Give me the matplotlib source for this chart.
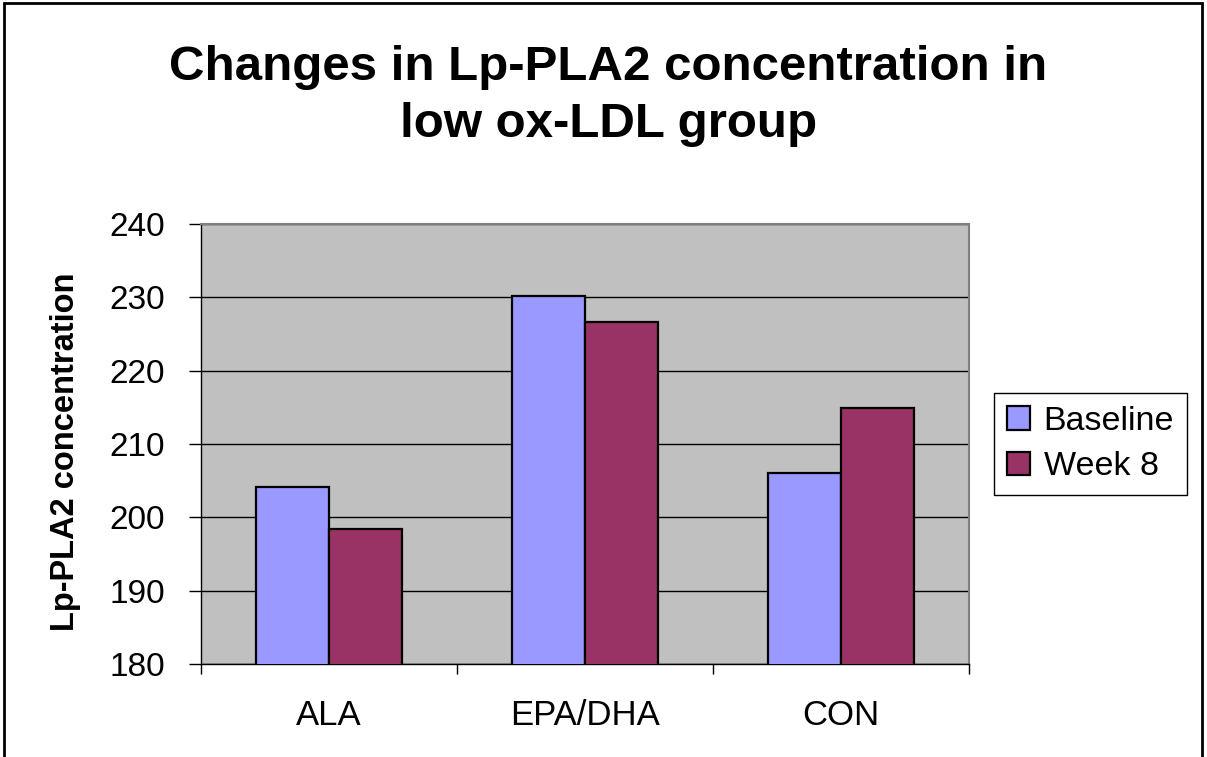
import numpy as np
import matplotlib.pyplot as plt
from matplotlib.patches import Rectangle

plt.rcParams['font.family'] = ['Liberation Sans', 'DejaVu Sans']

groups = ['ALA', 'EPA/DHA', 'CON']
baseline = [204.1, 230.2, 206.0]
week8 = [198.4, 226.7, 214.9]
yticks = [180, 190, 200, 210, 220, 230, 240]

fig = plt.figure(figsize=(12.07, 7.57), dpi=100)
ax = fig.add_axes([0.1665, 0.1229, 0.6363, 0.5812])
ax.set_facecolor('#C0C0C0')

x = np.arange(len(groups))
w = 1 / 3.5
ax.bar(x - w / 2, baseline, w, color='#9999FF', edgecolor='black', linewidth=1.6,
       label='Baseline', zorder=3)
ax.bar(x + w / 2, week8, w, color='#993366', edgecolor='black', linewidth=1.6,
       label='Week 8', zorder=3)

ax.set_ylim(180, 240)
ax.set_xlim(-0.5, 2.5)
ax.set_yticks(yticks)
ax.set_yticklabels([str(t) for t in yticks], fontsize=24)
ax.yaxis.grid(True, color='black', linewidth=1.0, zorder=1)
ax.set_axisbelow(True)

ax.set_xticks(x)
ax.set_xticklabels(groups, fontsize=25)
ax.set_xticks([-0.5, 0.5, 1.5, 2.5], minor=True)
ax.tick_params(axis='x', which='major', length=0, pad=25)
ax.tick_params(axis='x', which='minor', length=7, width=1, color='black')
ax.tick_params(axis='y', length=9, width=1, pad=17)

for s in ['top', 'right']:
    ax.spines[s].set_color('#808080')
    ax.spines[s].set_linewidth(1.5)
for s in ['left', 'bottom']:
    ax.spines[s].set_color('black')
    ax.spines[s].set_linewidth(1.0)

fig.text(0.054, 0.403, 'Lp-PLA2 concentration', rotation=90, ha='center', va='center',
         fontsize=23.5, fontweight='bold')

fig.text(0.504, 0.8943, 'Changes in Lp-PLA2 concentration in', ha='center', va='baseline',
         fontsize=35.5, fontweight='bold')
fig.text(0.504, 0.819, 'low ox-LDL group', ha='center', va='baseline',
         fontsize=35.5, fontweight='bold')

leg = ax.legend(loc='upper left', bbox_to_anchor=(994 / 1207, 1 - 393 / 757),
                bbox_transform=fig.transFigure, borderaxespad=0, fontsize=24.5,
                frameon=True, fancybox=False, edgecolor='black', framealpha=1,
                handlelength=0.68, handleheight=0.68, handletextpad=0.4,
                borderpad=0.38, labelspacing=0.42)
leg.get_frame().set_linewidth(1)

# outer chart frame
fig.patches.append(Rectangle((0.003, -0.01), 0.993, 1.006, transform=fig.transFigure,
                             fill=False, edgecolor='black', linewidth=2))

fig.savefig('out.png', dpi=100)
